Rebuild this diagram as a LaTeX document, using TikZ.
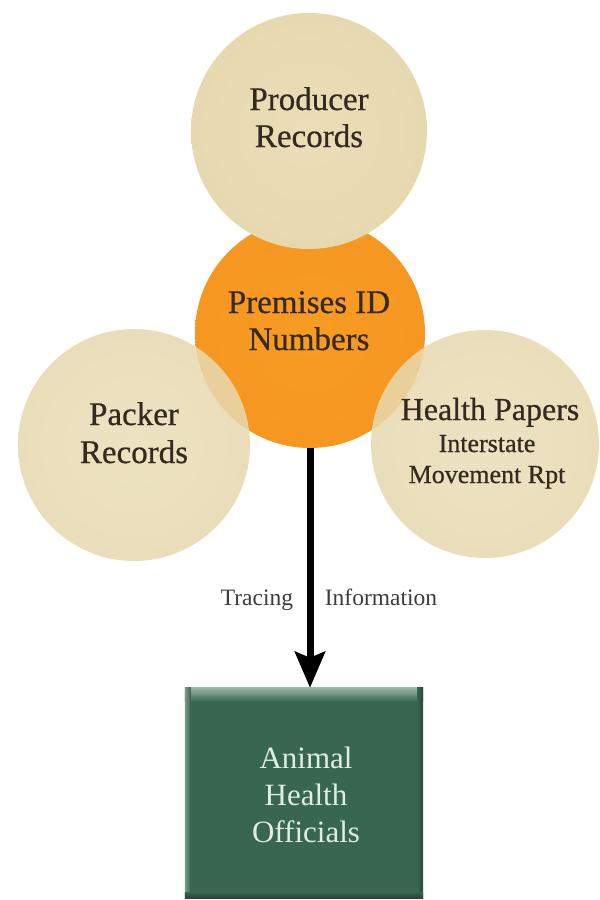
\documentclass[tikz,border=0pt]{standalone}
\usepackage{fontspec}
\setmainfont{Liberation Serif}
\newfontfamily\semib{Liberation Serif}[FakeBold=0.6]
\usetikzlibrary{arrows.meta}
\definecolor{txtdark}{RGB}{52,42,32}
\definecolor{lbl}{RGB}{60,60,60}
\definecolor{boxgreen}{RGB}{56,102,80}
\definecolor{boxlight}{RGB}{150,182,165}
\definecolor{boxtext}{RGB}{222,238,226}
\pgfdeclareradialshading{beigeball}{\pgfpoint{0bp}{0bp}}{rgb(0bp)=(0.92,0.87,0.72); rgb(36bp)=(0.90,0.84,0.67); rgb(45bp)=(0.87,0.80,0.62); rgb(50bp)=(0.78,0.70,0.52)}
\pgfdeclareradialshading{orangeball}{\pgfpoint{0bp}{0bp}}{rgb(0bp)=(0.97,0.61,0.14); rgb(38bp)=(0.96,0.58,0.12); rgb(46bp)=(0.93,0.53,0.08); rgb(50bp)=(0.84,0.45,0.05)}
\begin{document}
\begin{tikzpicture}[x=1pt,y=-1pt,
  ball/.style={circle, minimum size=#1, inner sep=0pt, outer sep=0pt},
  beige/.style={shading=beigeball},
  orangec/.style={shading=orangeball},
  ctext/.style={anchor=base, inner sep=0pt, text=txtdark, font=\semib\fontsize{33}{37}\selectfont},
  csmall/.style={anchor=base, inner sep=0pt, text=txtdark, font=\semib\fontsize{26}{31}\selectfont},
  ltext/.style={anchor=base, inner sep=0pt, text=lbl, font=\fontsize{23.5}{28}\selectfont},
  btext/.style={anchor=base, inner sep=0pt, text=boxtext, font=\fontsize{31}{37}\selectfont},
  arrowline/.style={line width=7pt, -{Stealth[length=36pt,width=30pt,inset=6pt]}}
]
\useasboundingbox[fill=white] (0,0) rectangle (600,900);

% circles
\node[ball=230pt, orangec] (premises) at (310,333) {};
\node[ball=236pt, beige] (producer) at (309,131) {};
\node[ball=232pt, beige, opacity=0.85] (packer) at (134,445) {};
\node[ball=228pt, beige, opacity=0.85] (health) at (485,444) {};

% box
\node[rectangle, minimum width=238pt, minimum height=210pt, inner sep=0pt, fill=boxgreen] (officials) at (304,793) {};
\shade[top color=boxlight, bottom color=boxgreen] (officials.north west) rectangle ([yshift=-14pt]officials.north east);
\shade[left color=boxlight!70!boxgreen, right color=boxgreen] (officials.north west) rectangle ([xshift=6pt]officials.south west);
\shade[right color=boxgreen!70!black, left color=boxgreen] ([xshift=-6pt]officials.north east) rectangle (officials.south east);
\shade[bottom color=boxgreen!65!black, top color=boxgreen] ([yshift=6pt]officials.south west) rectangle (officials.south east);

% arrow
\draw[arrowline] (premises.south) -- (premises.south |- officials.north);

% texts
\node[ctext] (prodA) at (309,110) {Producer};
\node[ctext] (prodB) at (309,147) {Records};
\node[ctext] (premA) at (309,313) {Premises ID};
\node[ctext] (premB) at (309,350) {Numbers};
\node[ctext] (packA) at (134,425) {Packer};
\node[ctext] (packB) at (134,463) {Records};
\node[ctext, font=\semib\fontsize{32}{37}\selectfont] (healA) at (490,420) {Health Papers};
\node[csmall] (healB) at (487,452) {Interstate};
\node[csmall] (healC) at (487,483) {Movement Rpt};
\node[ltext] (tracing) at (257,605) {Tracing};
\node[ltext] (info) at (381,605) {Information};
\node[btext] (offA) at (306,768) {Animal};
\node[btext] (offB) at (306,805) {Health};
\node[btext] (offC) at (306,842) {Officials};
\end{tikzpicture}
\end{document}
